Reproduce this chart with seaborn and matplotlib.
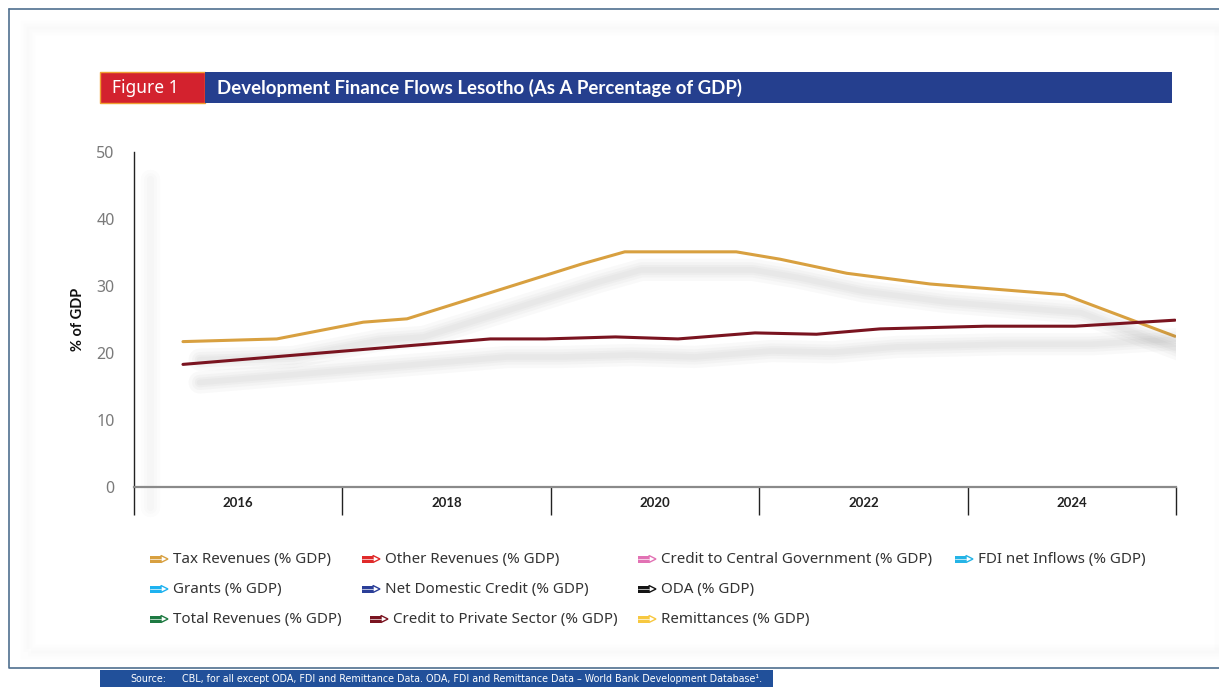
import seaborn as sns
import pandas as pd
import matplotlib.pyplot as plt
import matplotlib.patheffects as pe
from matplotlib.patches import Rectangle, Polygon

# --- data ---
tax_years = [2015.47, 2016.37, 2017.20, 2017.62, 2019.30, 2019.71, 2020.78,
             2021.20, 2021.84, 2022.64, 2023.93, 2024.99]
tax_values = [21.7, 22.1, 24.6, 25.1, 33.3, 35.1, 35.1, 34.0, 31.9, 30.3, 28.7, 22.5]

credit_years = [2015.47, 2018.42, 2018.95, 2019.62, 2020.22, 2020.96, 2021.55,
                2022.16, 2023.17, 2024.03, 2024.99]
credit_values = [18.3, 22.1, 22.1, 22.4, 22.1, 23.0, 22.8, 23.6, 24.0, 24.0, 24.9]

year_labels = [2016, 2018, 2020, 2022, 2024]
group_edges = [2015, 2017, 2019, 2021, 2023, 2025]

legend_rows = [
    [("Tax Revenues (% GDP)", "#D8A040"), ("Other Revenues (% GDP)", "#E02A2A"),
     ("Credit to Central Government (% GDP)", "#E272B4"), ("FDI net Inflows (% GDP)", "#25B4E6")],
    [("Grants (% GDP)", "#1EB2F0"), ("Net Domestic Credit (% GDP)", "#2B3F98"),
     ("ODA (% GDP)", "#151515")],
    [("Total Revenues (% GDP)", "#1E7A42"), ("Credit to Private Sector (% GDP)", "#7A1420"),
     ("Remittances (% GDP)", "#F7C840")],
]
legend_cols = [[150, 362, 638, 955], [150, 362, 638], [150, 370, 638]]
legend_y = [559, 589, 619]

df = pd.concat([
    pd.DataFrame({"year": tax_years, "value": tax_values, "series": "Tax Revenues (% GDP)"}),
    pd.DataFrame({"year": credit_years, "value": credit_values,
                  "series": "Credit to Private Sector (% GDP)"}),
])

W, H = 1219, 687
sns.set_style("white")
plt.rcParams["font.family"] = ["Noto Sans", "DejaVu Sans"]

fig = plt.figure(figsize=(W / 100, H / 100), dpi=100)


def px(x, y):
    return (x / W, 1 - y / H)


# outer frame
fig.add_artist(plt.Line2D([9 / W, 9 / W, 1], [1 - 9 / H, 1 - 668 / H, 1 - 668 / H],
                          color="#4F6F8F", lw=1.2, transform=fig.transFigure))
fig.add_artist(plt.Line2D([9 / W, 1], [1 - 9 / H, 1 - 9 / H],
                          color="#4F6F8F", lw=1.2, transform=fig.transFigure))
for i, a in enumerate([0.015, 0.012, 0.01]):
    fig.add_artist(Rectangle(px(25 + 3 * i, 655 - 3 * i), (1219 - 25) / W, (630 - 6 * i) / H,
                             transform=fig.transFigure, fill=False,
                             ec="#909090", lw=6, alpha=a))

# title bar
fig.add_artist(Rectangle(px(100, 103), 105 / W, 31 / H, transform=fig.transFigure,
                         fc="#D3222E", ec="#F0A030", lw=1))
fig.add_artist(Rectangle(px(205, 103), 967 / W, 31 / H, transform=fig.transFigure,
                         fc="#253F8E", ec="none"))
fig.text(*px(112, 88), "Figure 1", color="white", fontsize=12.5, va="center", ha="left")
fig.text(*px(217, 88), "Development Finance Flows Lesotho (As A Percentage of GDP)",
         color="white", fontsize=13.4, fontweight="bold", family="Lato",
         va="center", ha="left")

# axes
ax = fig.add_axes([134 / W, 1 - 487 / H, (1176 - 134) / W, (487 - 152) / H])
palette = {"Tax Revenues (% GDP)": "#D8A040",
           "Credit to Private Sector (% GDP)": "#7A1420"}
sns.lineplot(data=df, x="year", y="value", hue="series", palette=palette,
             estimator=None, sort=True, lw=2.2, ax=ax, legend=False)

shadow = [pe.SimpleLineShadow(offset=(12, -13), shadow_color="#606060", alpha=0.035, linewidth=w)
          for w in (16, 11, 7, 4)] + [pe.Normal()]
for line in ax.get_lines():
    line.set_path_effects(shadow)
    line.set_solid_joinstyle("round")

# faint shadow of the y axis
for w in (14, 9, 5):
    ax.plot([2015.15, 2015.15], [-3, 46], color="#707070", alpha=0.02, lw=w,
            clip_on=False, solid_capstyle="round")

ax.set_xlim(2015, 2025)
ax.set_ylim(0, 50)
ax.set_yticks(range(0, 51, 10))
ax.set_xticks(year_labels)
ax.set_xticks(group_edges, minor=True)
ax.set_xticklabels([str(y) for y in year_labels], fontsize=9.5, fontweight="bold",
                   color="#222222", family="Lato")
ax.tick_params(axis="x", which="major", length=0, pad=7)
ax.tick_params(axis="x", which="minor", bottom=True, length=20, width=1,
               color="#222222", direction="out")
ax.tick_params(axis="y", length=0, pad=14, labelsize=11.5, labelcolor="#7A7A7A")
ax.set_xlabel("")
ax.set_ylabel("% of GDP", fontsize=10.5, color="#111111", labelpad=8,
              fontweight="bold", family="Lato")
for s in ["top", "right"]:
    ax.spines[s].set_visible(False)
ax.spines["left"].set_color("#222222")
ax.spines["left"].set_linewidth(1)
ax.spines["bottom"].set_color("#8A8A8A")
ax.spines["bottom"].set_linewidth(1.6)

# legend
for r, row in enumerate(legend_rows):
    for c, (label, color) in enumerate(row):
        x0, y0 = legend_cols[r][c], legend_y[r]
        body = Polygon([px(x0, y0 - 3.5), px(x0 + 11, y0 - 3.5), px(x0 + 11, y0 + 3.5),
                        px(x0, y0 + 3.5)], closed=True, transform=fig.transFigure,
                       fc=color, ec="none")
        tip = Polygon([px(x0 + 11, y0 - 3.5), px(x0 + 18, y0), px(x0 + 11, y0 + 3.5)],
                      closed=True, transform=fig.transFigure, fc="white", ec=color, lw=1)
        fig.add_artist(body)
        fig.add_artist(tip)
        fig.add_artist(plt.Line2D([x0 / W, (x0 + 11) / W], [1 - y0 / H, 1 - y0 / H],
                                  color="white", lw=0.6, alpha=0.8, transform=fig.transFigure))
        fig.text(*px(x0 + 23, y0), label, fontsize=10.9, color="#333333",
                 va="center", ha="left")

# source bar
fig.add_artist(Rectangle(px(100, 687), 673 / W, 17 / H, transform=fig.transFigure,
                         fc="#21509A", ec="none"))
fig.text(*px(130, 679), "Source:", color="white", fontsize=7.7, va="center",
         family="DejaVu Sans", fontstretch="condensed")
fig.text(*px(182, 679),
         "CBL, for all except ODA, FDI and Remittance Data. ODA, FDI and Remittance Data "
         "\u2013 World Bank Development Database\u00b9.",
         color="white", fontsize=7.7, va="center",
         family="DejaVu Sans", fontstretch="condensed")

fig.savefig("out.png", dpi=100)
